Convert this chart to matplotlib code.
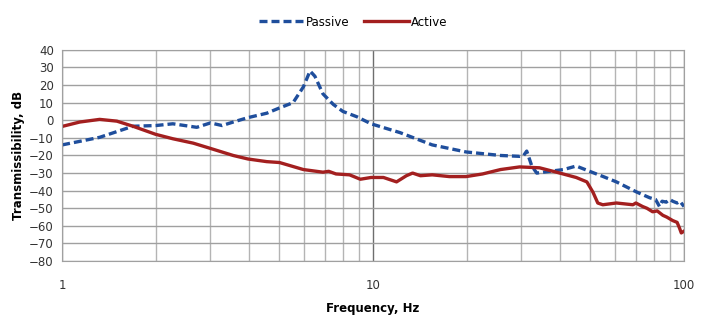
import numpy as np
import matplotlib
matplotlib.use("Agg")
import matplotlib.pyplot as plt
from matplotlib.ticker import FixedLocator, NullFormatter

# Passive (dashed blue)
passive_f = [1.0, 1.32, 1.69, 2.0, 2.27, 2.71, 3.0, 3.27, 3.55, 3.96, 4.55, 5.0, 5.53,
             5.97, 6.27, 6.5, 6.9, 7.45, 8.0, 8.87, 9.85, 12.2, 15.5, 19.9, 25.7, 29.6,
             30.5, 31.2, 32.4, 33.6, 37.0, 41.0, 45.0, 49.7, 55.0, 60.6, 70.3, 77.5,
             81.0, 83.4, 85.0, 87.7, 90.0, 92.0, 95.0, 97.0, 100.0]
passive_db = [-14, -9.7, -3.4, -3, -2, -4, -1.5, -3, -1, 1.5, 4, 7, 10,
              19, 28, 25, 15, 9, 5, 2, -2, -7, -14, -18, -20, -20.5,
              -20, -17.5, -26, -30, -29, -28, -26, -29, -32, -35, -40.7, -44,
              -45, -49, -46, -46.5, -45, -46, -47, -46, -49]

# Active (solid red)
active_f = [1.0, 1.14, 1.32, 1.5, 1.69, 2.0, 2.27, 2.64, 3.0, 3.55, 3.96, 4.55, 5.0,
            5.97, 6.9, 7.2, 7.6, 8.4, 9.1, 9.85, 10.8, 11.9, 12.8, 13.4, 14.2, 15.5,
            17.6, 19.9, 22.5, 25.7, 29.6, 34.3, 38.9, 45.0, 48.7, 51.0, 52.8, 54.8,
            60.6, 68.5, 70.0, 73.6, 76.0, 79.3, 82.0, 85.5, 88.0, 92.0, 95.0, 96.6,
            98.0, 100.0]
active_db = [-3.5, -1, 0.5, -0.5, -3.4, -8, -10.5, -13, -16, -20, -22, -23.5, -24,
             -28, -29.5, -29, -30.5, -31, -33.5, -32.5, -32.5, -35, -31.5, -30, -31.5, -31,
             -32, -32, -30.5, -28, -26.5, -27, -29.5, -32.5, -35, -41, -47, -48,
             -47, -48, -47, -49, -50, -52, -51.5, -54, -55, -57, -58, -61,
             -64, -63]

fig = plt.figure(figsize=(7.14, 3.28), dpi=100)
ax = fig.add_axes([0.087, 0.204, 0.871, 0.644])

ax.plot(passive_f, passive_db, color='#1f4e9c', lw=2.4, ls=(0, (2.4, 1.2)), label='Passive')
ax.plot(active_f, active_db, color='#a31f1f', lw=2.4, label='Active')

ax.set_xscale('log')
ax.set_xlim(1, 100)
ax.set_ylim(-80, 40)
ax.set_yticks(np.arange(-80, 41, 10))
ax.xaxis.set_major_locator(FixedLocator([1, 10, 100]))
ax.xaxis.set_minor_locator(FixedLocator([i * d for d in (1, 10) for i in range(2, 10)]))
ax.xaxis.set_minor_formatter(NullFormatter())
ax.set_xticklabels(['1', '10', '100'])

ax.grid(which='major', axis='x', color='#6e6e6e', lw=1.0)
ax.grid(which='minor', axis='x', color='#b4b4b4', lw=1.0)
ax.grid(which='major', axis='y', color='#a0a0a0', lw=1.0)
ax.set_axisbelow(True)
for s in ax.spines.values():
    s.set_color('#a0a0a0')

ax.tick_params(which='both', length=0, labelsize=8.5, colors='#333333')
ax.tick_params(axis='x', pad=13)
ax.tick_params(axis='y', pad=6)

ax.set_xlabel('Frequency, Hz', fontsize=8.5, fontweight='bold', labelpad=7)
ax.set_ylabel('Transmissibility, dB', fontsize=8.5, fontweight='bold', labelpad=3)

fig.legend(loc='upper center', bbox_to_anchor=(0.495, 0.985), ncol=2, frameon=False,
           fontsize=8.5, handlelength=3.8, columnspacing=1.2, handletextpad=0.2)

fig.savefig('out.png', dpi=100)
